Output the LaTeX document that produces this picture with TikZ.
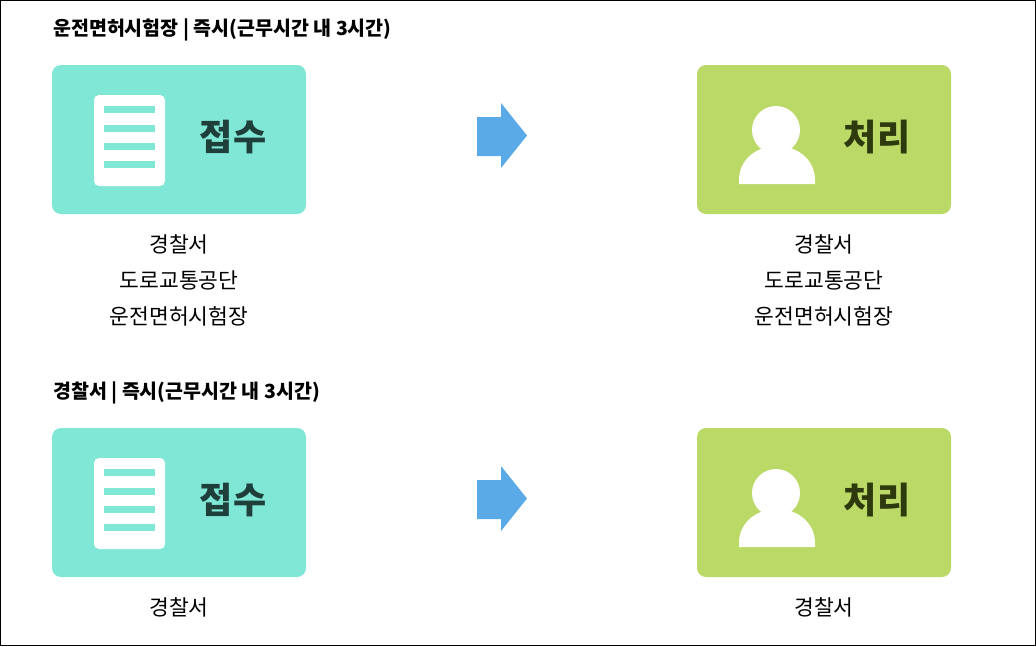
\documentclass[tikz,border=0pt]{standalone}
\usepackage{fontspec}
\setmainfont{Noto Sans CJK KR}
\definecolor{teal1}{HTML}{80E6D5}
\definecolor{green1}{HTML}{BBD966}
\definecolor{blue1}{HTML}{5AAAE8}
\definecolor{tealtxt}{HTML}{1E3F3A}
\definecolor{greentxt}{HTML}{2E3A0E}
\begin{document}
\begin{tikzpicture}[x=1pt,y=-1pt,
  title/.style={anchor=west,font=\fontsize{19.5}{22}\selectfont\bfseries,inner sep=0},
  lab/.style={font=\fontsize{21.5}{24}\selectfont,inner sep=0,align=center},
  big/.style={font=\fontsize{36}{40}\selectfont\bfseries,inner sep=0}]
\draw[black,line width=1.2] (0.6,0.6) rectangle (1035.4,645.4);
\foreach \dy/\t/\n in {0/{운전면허시험장 | 즉시(근무시간 내 3시간)}/a,363/{경찰서 | 즉시(근무시간 내 3시간)}/b}{
  \begin{scope}[yshift=-\dy pt]
  \node[title] (t\n) at (53,30) {\t};
  \fill[teal1,rounded corners=9] (52,65) rectangle (306,214);
  \fill[white,rounded corners=5] (94,95) rectangle (165,186);
  \foreach \yy in {109,128,146,164} \draw[teal1,line width=7] (104,\yy) -- (155,\yy);
  \node[big,text=tealtxt] (r\n) at (233,137) {접수};
  \fill[blue1] (477,117) -- (501,117) -- (501,103) -- (527,135.5) -- (501,168) -- (501,156) -- (477,156) -- cycle;
  \fill[green1,rounded corners=9] (697,65) rectangle (951,214);
  \fill[white] (776,130) circle (24);
  \fill[white] (739,184) -- (739,180) .. controls (739,160) and (756,146) .. (777,146) .. controls (798,146) and (815,160) .. (815,180) -- (815,184) -- cycle;
  \node[big,text=greentxt] (p\n) at (877,137) {처리};
  \end{scope}}
\node[lab] (l1) at (179,244) {경찰서};
\node[lab] (l2) at (179,280) {도로교통공단};
\node[lab] (l3) at (179,316) {운전면허시험장};
\node[lab] (m1) at (824,244) {경찰서};
\node[lab] (m2) at (824,280) {도로교통공단};
\node[lab] (m3) at (824,316) {운전면허시험장};
\node[lab] (l4) at (179,607) {경찰서};
\node[lab] (m4) at (824,607) {경찰서};
\end{tikzpicture}
\end{document}
